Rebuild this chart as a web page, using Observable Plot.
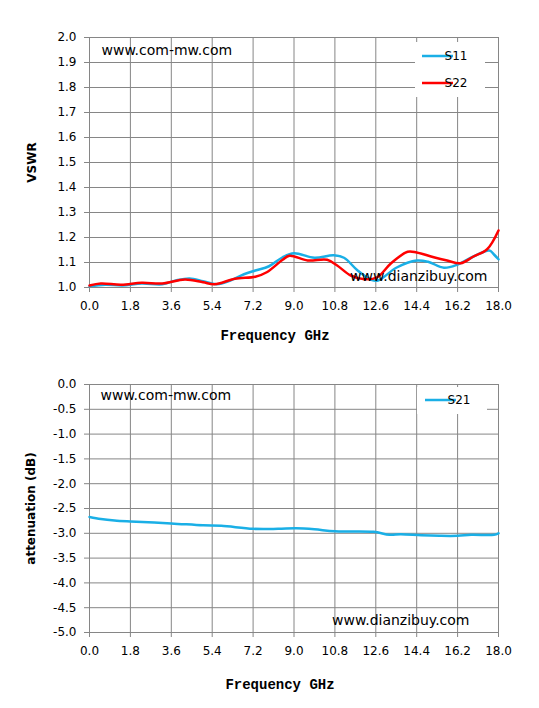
<!DOCTYPE html>
<html>
<head>
<meta charset="utf-8">
<script src="https://cdn.jsdelivr.net/npm/d3@7"></script>
<script src="https://cdn.jsdelivr.net/npm/@observablehq/plot@0.6"></script>
<style>
  html, body { margin: 0; padding: 0; background: #fff; }
  #wrap { width: 539px; }
  #wrap svg { display: block; }
</style>
</head>
<body>
<div id="wrap"></div>
<script>
// ---- data ----
const xTicks = [0, 1.8, 3.6, 5.4, 7.2, 9.0, 10.8, 12.6, 14.4, 16.2, 18.0];
const vswrTicks = [1.0, 1.1, 1.2, 1.3, 1.4, 1.5, 1.6, 1.7, 1.8, 1.9, 2.0];
const attTicks = [0, -0.5, -1.0, -1.5, -2.0, -2.5, -3.0, -3.5, -4.0, -4.5, -5.0];

const s11Freq = [0, 0.7, 1.45, 2.3, 3.2, 3.8, 4.4, 5.0, 5.6, 6.2, 6.8, 7.3, 7.9, 8.5, 9.0, 9.9, 10.75, 11.2, 11.8, 12.4, 12.7, 13.5, 14.4, 14.9, 15.6, 16.2, 16.9, 17.6, 17.8, 18.0];
const s11Vswr = [1.005, 1.011, 1.008, 1.016, 1.013, 1.028, 1.036, 1.025, 1.013, 1.028, 1.053, 1.068, 1.085, 1.121, 1.137, 1.119, 1.129, 1.119, 1.068, 1.031, 1.028, 1.079, 1.108, 1.103, 1.079, 1.092, 1.124, 1.148, 1.132, 1.113];

const s22Freq = [0, 0.5, 1.4, 2.3, 3.2, 4.2, 5.0, 5.5, 6.4, 7.3, 7.8, 8.5, 8.8, 9.6, 10.46, 10.9, 11.5, 12.1, 12.66, 13.25, 14.0, 14.4, 15.15, 15.74, 16.33, 16.9, 17.5, 18.0];
const s22Vswr = [1.008, 1.016, 1.011, 1.019, 1.016, 1.032, 1.021, 1.013, 1.035, 1.043, 1.061, 1.111, 1.127, 1.108, 1.111, 1.088, 1.048, 1.033, 1.041, 1.095, 1.143, 1.14, 1.121, 1.108, 1.097, 1.124, 1.153, 1.228];

const s21Freq = [0, 0.5, 1.1, 1.8, 3.6, 5.0, 5.8, 7.2, 8.3, 9.1, 9.9, 10.8, 12.5, 13.2, 13.7, 14.6, 15.4, 16.2, 16.8, 17.8, 18.0];
const s21Att = [-2.67, -2.71, -2.74, -2.76, -2.80, -2.84, -2.85, -2.91, -2.91, -2.90, -2.92, -2.96, -2.97, -3.03, -3.02, -3.04, -3.05, -3.05, -3.03, -3.03, -3.00];

const BLUE = "#1aafe6";
const RED = "#ff0000";
const GRID = "#868686";
const fmt = d => d.toFixed(1);

const s11 = s11Freq.map((f, i) => ({f, v: s11Vswr[i]}));
const s22 = s22Freq.map((f, i) => ({f, v: s22Vswr[i]}));
const s21 = s21Freq.map((f, i) => ({f, v: s21Att[i]}));

const common = {
  width: 539, height: 354, marginLeft: 89, marginRight: 41,
  style: {fontFamily: "DejaVu Sans", fontSize: "12px", color: "#000", background: "#fff"}
};

function label(text, opts) {
  return Plot.text([text], {fill: "#000", ...opts});
}

const topChart = Plot.plot({
  ...common,
  marginTop: 37, marginBottom: 67,
  x: {domain: [0, 18]},
  y: {domain: [1, 2]},
  marks: [
    Plot.gridX(xTicks, {stroke: GRID, strokeOpacity: 1}),
    Plot.gridY(vswrTicks, {stroke: GRID, strokeOpacity: 1}),
    Plot.axisX(xTicks, {tickSize: 5, tickPadding: 9, stroke: GRID, fill: "#000", tickFormat: fmt, label: null}),
    Plot.axisY(vswrTicks, {tickSize: 5, tickPadding: 8, stroke: GRID, fill: "#000", tickFormat: fmt, label: null}),
    Plot.line(s11, {x: "f", y: "v", stroke: BLUE, strokeWidth: 2.5, curve: "catmull-rom"}),
    Plot.line(s22, {x: "f", y: "v", stroke: RED, strokeWidth: 2.5, curve: "catmull-rom"}),
    label("www.com-mw.com", {frameAnchor: "top-left", textAnchor: "start", lineAnchor: "middle", dx: 12, dy: 13, fontSize: 14}),
    label("www.dianzibuy.com", {frameAnchor: "bottom-right", textAnchor: "end", lineAnchor: "middle", dx: -11, dy: -11, fontSize: 14}),
    label("VSWR", {frameAnchor: "left", textAnchor: "middle", lineAnchor: "middle", rotate: -90, dx: -57, fontWeight: "bold", fontSize: 12}),
    label("Frequency GHz", {frameAnchor: "bottom", textAnchor: "middle", lineAnchor: "middle", dx: -19, dy: 48, fontFamily: "Liberation Mono", fontWeight: "bold", fontSize: 14, letterSpacing: 0.4})
  ]
});

const bottomChart = Plot.plot({
  ...common,
  marginTop: 30, marginBottom: 76,
  x: {domain: [0, 18]},
  y: {domain: [-5, 0]},
  marks: [
    Plot.gridX(xTicks, {stroke: GRID, strokeOpacity: 1}),
    Plot.gridY(attTicks, {stroke: GRID, strokeOpacity: 1}),
    Plot.axisX(xTicks, {tickSize: 5, tickPadding: 9, stroke: GRID, fill: "#000", tickFormat: fmt, label: null}),
    Plot.axisY(attTicks, {tickSize: 5, tickPadding: 8, stroke: GRID, fill: "#000", tickFormat: fmt, label: null}),
    Plot.line(s21, {x: "f", y: "v", stroke: BLUE, strokeWidth: 2.5, curve: "catmull-rom"}),
    label("www.com-mw.com", {frameAnchor: "top-left", textAnchor: "start", lineAnchor: "middle", dx: 11, dy: 11, fontSize: 14}),
    label("www.dianzibuy.com", {frameAnchor: "bottom-right", textAnchor: "end", lineAnchor: "middle", dx: -29, dy: -12, fontSize: 14}),
    label("attenuation (dB)", {frameAnchor: "left", textAnchor: "middle", lineAnchor: "middle", rotate: -90, dx: -58, fontWeight: "bold", fontSize: 12}),
    label("Frequency GHz", {frameAnchor: "bottom", textAnchor: "middle", lineAnchor: "middle", dx: -14, dy: 52, fontFamily: "Liberation Mono", fontWeight: "bold", fontSize: 14, letterSpacing: 0.4})
  ]
});

// legends (white box over the grid, as in the reference)
function legend(svg, box, items) {
  const g = d3.select(svg).append("g");
  g.append("rect").attr("x", box.x).attr("y", box.y).attr("width", box.w).attr("height", box.h).attr("fill", "#fff");
  items.forEach(it => {
    g.append("line").attr("x1", it.x1).attr("x2", it.x2).attr("y1", it.y).attr("y2", it.y)
      .attr("stroke", it.color).attr("stroke-width", 2.5);
    g.append("text").attr("x", it.x2 + 3).attr("y", it.y).attr("dy", "0.35em")
      .attr("font-family", "DejaVu Sans").attr("font-size", 12).attr("fill", "#000").text(it.name);
  });
}
legend(topChart, {x: 415, y: 42, w: 70, h: 55}, [
  {name: "S11", color: BLUE, x1: 422, x2: 453, y: 56},
  {name: "S22", color: RED, x1: 422, x2: 453, y: 83}
]);
legend(bottomChart, {x: 417, y: 33, w: 70, h: 27}, [
  {name: "S21", color: BLUE, x1: 425, x2: 456, y: 46}
]);

const wrap = document.getElementById("wrap");
wrap.appendChild(topChart);
wrap.appendChild(bottomChart);
</script>
</body>
</html>
